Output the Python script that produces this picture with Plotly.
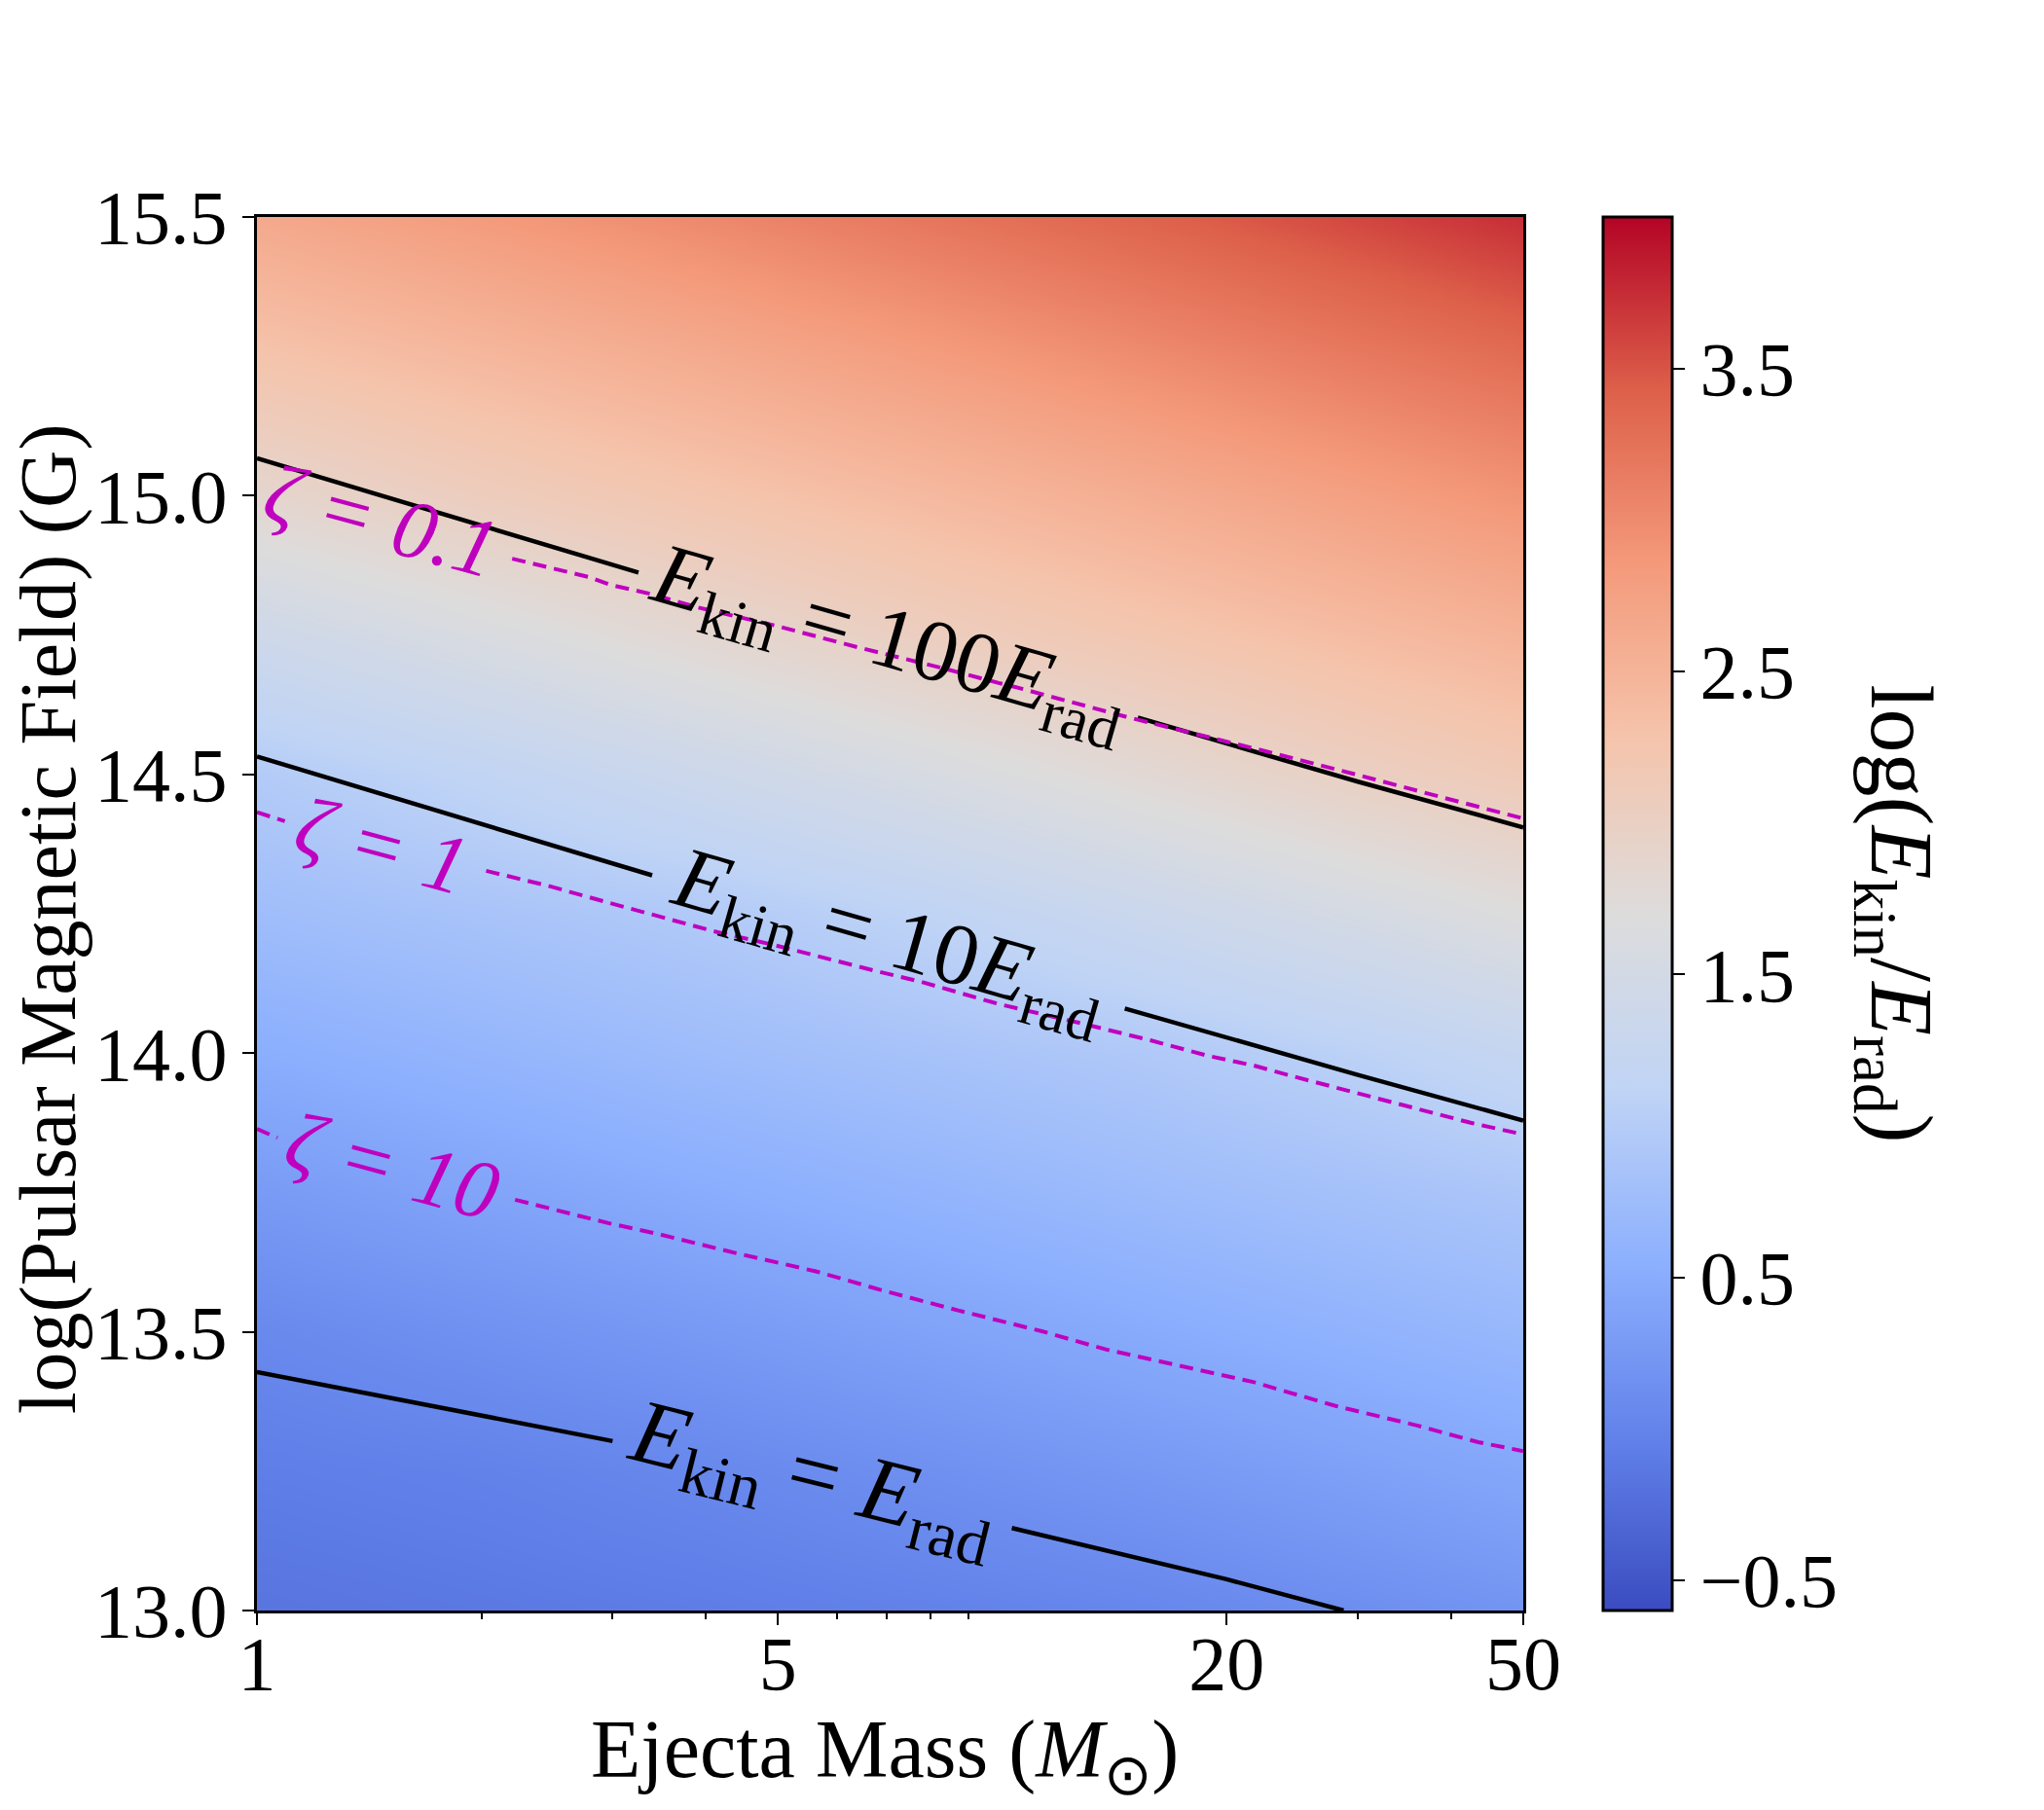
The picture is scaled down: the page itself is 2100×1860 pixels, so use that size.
import numpy as np
import plotly.graph_objects as go

FONT = "Liberation Serif"
MAGENTA = "#bf00bf"

# heatmap grid
mass_grid = [0.63, 1, 2, 4, 8, 16, 32, 50, 80]
logb_grid = [12.75, 13.0, 13.25, 13.5, 13.75, 14.0, 14.25, 14.5, 14.75, 15.0, 15.25, 15.5, 15.75]
ratio_grid = [
    [-0.262, -0.245, -0.209, -0.163, -0.121, -0.078, -0.036, -0.007, 0.054],
    [-0.197, -0.17, -0.127, -0.084, -0.03, 0.035, 0.137, 0.204, 0.273],
    [-0.102, -0.07, -0.025, 0.048, 0.15, 0.254, 0.364, 0.437, 0.512],
    [-0.003, 0.061, 0.164, 0.267, 0.378, 0.491, 0.604, 0.677, 0.753],
    [0.212, 0.28, 0.392, 0.506, 0.618, 0.731, 0.835, 0.9, 0.967],
    [0.445, 0.52, 0.632, 0.746, 0.847, 0.948, 1.1, 1.236, 1.376],
    [0.685, 0.76, 0.86, 0.961, 1.128, 1.338, 1.551, 1.698, 1.85],
    [0.907, 0.974, 1.155, 1.365, 1.58, 1.807, 2.025, 2.14, 2.258],
    [1.253, 1.39, 1.61, 1.836, 2.048, 2.225, 2.402, 2.518, 2.638],
    [1.715, 1.865, 2.07, 2.248, 2.425, 2.604, 2.79, 2.91, 3.037],
    [2.153, 2.27, 2.448, 2.627, 2.813, 3.002, 3.19, 3.31, 3.437],
    [2.531, 2.65, 2.837, 3.026, 3.213, 3.402, 3.607, 3.743, 3.886],
    [2.925, 3.05, 3.237, 3.426, 3.634, 3.846, 4.04, 4.161, 4.287],
]

# black contours, None marks the gap for the inline label
ekin100_mass = [1, 2, 3.25, None, 15.2, 30, 50]
ekin100_logb = [15.067, 14.946, 14.862, None, 14.602, 14.487, 14.405]
ekin10_mass = [1, 2, 3.39, None, 14.6, 30, 50]
ekin10_logb = [14.532, 14.41, 14.319, None, 14.08, 13.961, 13.879]
ekin1_mass = [1, 2, 3.0, None, 10.3, 20, 28.7]
ekin1_logb = [13.428, 13.351, 13.304, None, 13.148, 13.056, 13.0]

# dashed zeta contours
zeta01_mass = [2.2, 2.79, 2.98, 3.37, 3.89, 4.96, 6.4, 8.24, 9.89, 10.26, 14.6, 17.8, 22.8, 29.6, 36, 40.7, 50]
zeta01_logb = [14.887, 14.854, 14.84, 14.824, 14.8, 14.767, 14.728, 14.692, 14.664, 14.659, 14.604, 14.576, 14.54, 14.501, 14.47, 14.452, 14.421]
zeta1_mass = [1, 1.09, None, 2.03, 2.46, 2.98, 3.37, 4.09, 4.94, 5.61, 6.78, 7.78, 9.89, 12.8, 15.8, 18.9, 21.7, 24.6, 29.6, 36, 42.5, 50]
zeta1_logb = [14.432, 14.416, None, 14.327, 14.3, 14.269, 14.25, 14.219, 14.194, 14.175, 14.147, 14.128, 14.088, 14.053, 14.023, 13.995, 13.978, 13.958, 13.93, 13.9, 13.875, 13.854]
zeta10_mass = [1, 1.065, None, 2.22, 2.96, 3.44, 4.4, 5.64, 6.96, 8.75, 11.3, 13.8, 17.7, 21.7, 28, 36, 43.5, 50]
zeta10_logb = [13.864, 13.848, None, 13.737, 13.695, 13.676, 13.641, 13.608, 13.573, 13.538, 13.501, 13.468, 13.436, 13.41, 13.367, 13.332, 13.302, 13.286]

x_ticks = [1, 5, 20, 50]
x_minor = [2, 3, 4, 6, 7, 8, 9, 30, 40]
y_ticks = [13.0, 13.5, 14.0, 14.5, 15.0, 15.5]
cbar_ticks = [-0.5, 0.5, 1.5, 2.5, 3.5]
cbar_labels = ["\u22120.5", "0.5", "1.5", "2.5", "3.5"]

coolwarm = [
    [0.0, "#3b4cc0"],
    [0.125, "#6282ea"],
    [0.25, "#8db0fe"],
    [0.375, "#c0d4f5"],
    [0.5, "#dddcdc"],
    [0.625, "#f5c4ac"],
    [0.75, "#f49a7b"],
    [0.875, "#dd604a"],
    [1.0, "#b40426"],
]

fig = go.Figure()

fig.add_trace(go.Heatmap(
    x=mass_grid,
    y=logb_grid,
    z=ratio_grid,
    zsmooth="best",
    zmin=-0.6,
    zmax=4.0,
    colorscale=coolwarm,
    hoverinfo="skip",
    colorbar=dict(
        x=1.063,
        xanchor="left",
        xpad=0,
        y=0,
        yanchor="bottom",
        len=1,
        ypad=0,
        thickness=71,
        outlinecolor="black",
        outlinewidth=3,
        ticks="outside",
        ticklen=12,
        tickwidth=2,
        tickcolor="black",
        tickmode="array",
        tickvals=cbar_ticks,
        ticktext=cbar_labels,
        tickfont=dict(family=FONT, size=78, color="black"),
    ),
))

for mass, logb in [(ekin100_mass, ekin100_logb), (ekin10_mass, ekin10_logb), (ekin1_mass, ekin1_logb)]:
    fig.add_trace(go.Scatter(x=mass, y=logb, mode="lines", showlegend=False,
                             line=dict(color="black", width=4.5)))

for mass, logb in [(zeta01_mass, zeta01_logb), (zeta1_mass, zeta1_logb), (zeta10_mass, zeta10_logb)]:
    fig.add_trace(go.Scatter(x=mass, y=logb, mode="lines", showlegend=False,
                             line=dict(color=MAGENTA, width=4, dash="14px,8px")))

# inline contour labels: text, log10(mass), logB, colour, angle, size
E_KIN = "<i>E</i><sub>kin</sub>"
E_RAD = "<i>E</i><sub>rad</sub>"
inline_labels = [
    (f"{E_KIN} = 100{E_RAD}", 0.847, 14.735, "black", 16, 90),
    (f"{E_KIN} = 10{E_RAD}", 0.847, 14.20, "black", 16, 90),
    (f"{E_KIN} = {E_RAD}", 0.745, 13.235, "black", 14, 94),
    ("<i>\u03b6 = 0.1</i>", 0.167, 14.955, MAGENTA, 15, 86),
    ("<i>\u03b6 = 1</i>", 0.168, 14.372, MAGENTA, 15, 86),
    ("<i>\u03b6 = 10</i>", 0.181, 13.797, MAGENTA, 15, 86),
]
for text, x, y, color, angle, size in inline_labels:
    fig.add_annotation(text=text, x=x, y=y, xref="x", yref="y", showarrow=False,
                       textangle=angle, font=dict(family=FONT, size=size, color=color))

# axis titles as annotations, standoff does nothing with fixed margins
titles = [
    ("Ejecta Mass (<i>M</i><sub>\u2299</sub>)", 0.496, -0.104, 0, 84),
    ("log(Pulsar Magnetic Field) (G)", -0.165, 0.4965, -90, 82),
    (f"log({E_KIN}/{E_RAD})", 1.294, 0.5, 90, 90),
]
for text, x, y, angle, size in titles:
    fig.add_annotation(text=text, x=x, y=y, xref="paper", yref="paper", showarrow=False,
                       xanchor="center", yanchor="middle",
                       textangle=angle, font=dict(family=FONT, size=size, color="black"))

fig.update_xaxes(
    type="log",
    range=[0, np.log10(50)],
    tickmode="array",
    tickvals=x_ticks,
    ticktext=[str(v) for v in x_ticks],
    ticks="outside",
    ticklen=12,
    tickwidth=2,
    tickcolor="black",
    tickangle=0,
    ticklabelstandoff=-28,
    tickfont=dict(family=FONT, size=78, color="black"),
    minor=dict(tickmode="array", tickvals=x_minor, ticks="outside", ticklen=6, tickwidth=2, tickcolor="black", showgrid=False),
    showgrid=False,
    zeroline=False,
    showline=True,
    mirror=True,
    linecolor="black",
    linewidth=3,
)
fig.update_yaxes(
    range=[13.0, 15.5],
    tickmode="array",
    tickvals=y_ticks,
    ticktext=[f"{v:.1f}" for v in y_ticks],
    ticks="outside",
    ticklen=12,
    tickwidth=2,
    tickcolor="black",
    tickfont=dict(family=FONT, size=78, color="black"),
    showgrid=False,
    zeroline=False,
    showline=True,
    mirror=True,
    linecolor="black",
    linewidth=3,
)
fig.update_layout(
    width=2092,
    height=1852,
    margin=dict(l=256, r=535, t=215, b=205, autoexpand=False),
    paper_bgcolor="white",
    plot_bgcolor="white",
    showlegend=False,
)

fig.write_html("out.html")
